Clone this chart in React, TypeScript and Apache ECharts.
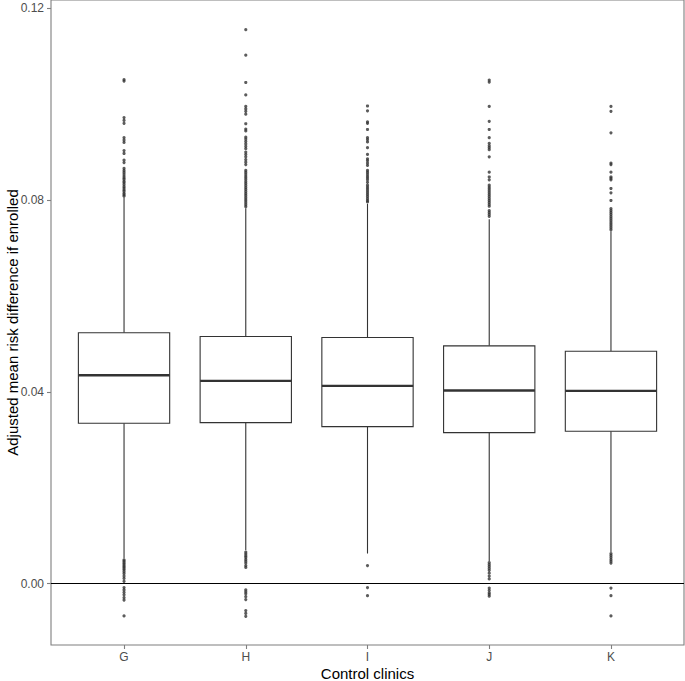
import React, { useEffect, useRef } from "react";
import * as echarts from "echarts";

const categories = ["G", "H", "I", "J", "K"];

const whiskerLow = [0.0053, 0.007, 0.0063, 0.0047, 0.0066];
const quartile1 = [0.03345, 0.0336, 0.03276, 0.03151, 0.03178];
const medians = [0.04347, 0.0423, 0.04125, 0.04028, 0.04021];
const quartile3 = [0.05232, 0.05154, 0.05134, 0.0496, 0.04848];
const whiskerHigh = [0.0805, 0.0783, 0.0792, 0.076, 0.0735];

const outliersG = [
  0.1051, 0.1048, 0.0972, 0.0966, 0.096, 0.093, 0.0925, 0.092, 0.0903, 0.0897, 0.0883, 0.0878,
  0.0866, 0.0862, 0.0858, 0.0854, 0.085, 0.0846, 0.0843, 0.0839, 0.0836, 0.0832, 0.0828, 0.0825,
  0.0821, 0.0818, 0.0814, 0.0811, 0.0808,
  0.005, 0.0047, 0.0044, 0.0041, 0.0038, 0.0035, 0.0032, 0.0029, 0.0025, 0.0021, 0.0016, 0.0011,
  0.0005, -0.0008, -0.0013, -0.0018, -0.0023, -0.0029, -0.0034, -0.0067,
];
const outliersH = [
  0.1155, 0.1102, 0.1045, 0.1019, 0.0995, 0.099, 0.0985, 0.0979, 0.0959, 0.0948, 0.0944, 0.0931,
  0.0927, 0.0922, 0.0917, 0.0912, 0.0907, 0.09, 0.0895, 0.089, 0.0884, 0.0879, 0.0874, 0.0862,
  0.0858, 0.0854, 0.085, 0.0846, 0.0842, 0.0838, 0.0834, 0.083, 0.0826, 0.0822, 0.0818, 0.0814,
  0.081, 0.0806, 0.0802, 0.0798, 0.0794, 0.079, 0.0786,
  0.0066, 0.0062, 0.0058, 0.0055, 0.0051, 0.0047, 0.0043, 0.0038, 0.0034, -0.0013, -0.0017,
  -0.0021, -0.0027, -0.0033, -0.0056, -0.0062, -0.0068,
];
const outliersI = [
  0.0996, 0.0986, 0.0963, 0.096, 0.0947, 0.093, 0.0926, 0.0921, 0.0909, 0.0895, 0.0886, 0.0882,
  0.0877, 0.0872, 0.0862, 0.0858, 0.0854, 0.085, 0.0846, 0.0842, 0.0837, 0.0831, 0.0827, 0.0823,
  0.0819, 0.0815, 0.0811, 0.0807, 0.0803, 0.0799, 0.0796,
  0.0038, -0.0008, -0.0025,
];
const outliersJ = [
  0.105, 0.1046, 0.0995, 0.0964, 0.0947, 0.093, 0.0918, 0.0913, 0.0909, 0.0905, 0.089, 0.0858,
  0.0848, 0.0842, 0.0831, 0.0827, 0.0823, 0.0819, 0.0815, 0.0811, 0.0807, 0.0803, 0.0799, 0.0795,
  0.0791, 0.0787, 0.0778, 0.0774, 0.077, 0.0766,
  0.0044, 0.004, 0.0036, 0.0032, 0.0028, 0.0022, 0.0016, 0.001, -0.0009, -0.0014, -0.0019,
  -0.0022, -0.0026,
];
const outliersK = [
  0.0995, 0.0985, 0.094, 0.0877, 0.0874, 0.0858, 0.0848, 0.0845, 0.0842, 0.0824, 0.0815, 0.0799,
  0.0782, 0.0778, 0.0774, 0.077, 0.0766, 0.0762, 0.0758, 0.0754, 0.075, 0.0746, 0.0742, 0.0738,
  0.0063, 0.0059, 0.0055, 0.0051, 0.0047, 0.0043, -0.0009, -0.0025, -0.0067,
];

const yTicks = [0, 0.04, 0.08, 0.12];
const xTicks = [0, 1, 2, 3, 4];

export default function App() {
  const ref = useRef<HTMLDivElement>(null);

  useEffect(() => {
    if (!ref.current) return;
    const chart = echarts.init(ref.current, undefined, { renderer: "svg" });

    const boxData = categories.map((_, i) => [
      i,
      whiskerLow[i],
      quartile1[i],
      medians[i],
      quartile3[i],
      whiskerHigh[i],
    ]);
    const allOutliers = [outliersG, outliersH, outliersI, outliersJ, outliersK];
    const outlierData: number[][] = [];
    allOutliers.forEach((arr, i) => arr.forEach((v) => outlierData.push([i, v])));

    const font = "'Liberation Sans', Arial, Helvetica, sans-serif";
    const stroke = "#333333";

    chart.setOption({
      animation: false,
      backgroundColor: "#ffffff",
      grid: {
        left: 51,
        right: 1,
        top: 0,
        bottom: 36,
        containLabel: false,
        outerBoundsMode: "none",
        show: true,
        borderColor: "#7f7f7f",
        borderWidth: 1.1,
        backgroundColor: "transparent",
      },
      xAxis: {
        type: "value",
        min: -0.6,
        max: 4.6,
        position: "bottom",
        name: "Control clinics",
        nameLocation: "middle",
        nameGap: 21,
        nameMoveOverlap: false,
        nameTextStyle: { color: "#000000", fontSize: 15, fontFamily: font },
        axisLine: { show: false, onZero: false },
        splitLine: { show: false },
        axisTick: {
          show: true,
          customValues: xTicks,
          length: 4,
          lineStyle: { color: "#7f7f7f", width: 1.1 },
        },
        axisLabel: {
          customValues: xTicks,
          margin: 6,
          color: "#4d4d4d",
          fontSize: 12,
          fontFamily: font,
          formatter: (v: number) => categories[Math.round(v)] ?? "",
        },
      },
      yAxis: {
        type: "value",
        min: -0.01277,
        max: 0.1217,
        position: "left",
        name: "Adjusted mean risk difference if enrolled",
        nameLocation: "middle",
        nameGap: 31,
        nameMoveOverlap: false,
        nameTextStyle: { color: "#000000", fontSize: 15, fontFamily: font },
        axisLine: { show: false, onZero: false },
        splitLine: { show: false },
        axisTick: {
          show: true,
          customValues: yTicks,
          length: 4,
          lineStyle: { color: "#7f7f7f", width: 1.1 },
        },
        axisLabel: {
          customValues: yTicks,
          margin: 7,
          color: "#4d4d4d",
          fontSize: 12,
          fontFamily: font,
          formatter: (v: number) => v.toFixed(2),
        },
      },
      series: [
        {
          type: "custom",
          data: boxData,
          encode: { x: 0, y: [1, 2, 3, 4, 5] },
          renderItem: (params: any, api: any) => {
            const x = api.value(0);
            const pLo = api.coord([x, api.value(1)]);
            const pQ1 = api.coord([x, api.value(2)]);
            const pMed = api.coord([x, api.value(3)]);
            const pQ3 = api.coord([x, api.value(4)]);
            const pHi = api.coord([x, api.value(5)]);
            const half = api.size([0.75, 0])[0] / 2;
            const cx = pMed[0];
            return {
              type: "group",
              children: [
                {
                  type: "line",
                  shape: { x1: cx, y1: pHi[1], x2: cx, y2: pQ3[1] },
                  style: { stroke, lineWidth: 1.1 },
                },
                {
                  type: "line",
                  shape: { x1: cx, y1: pQ1[1], x2: cx, y2: pLo[1] },
                  style: { stroke, lineWidth: 1.1 },
                },
                {
                  type: "rect",
                  shape: { x: cx - half, y: pQ3[1], width: half * 2, height: pQ1[1] - pQ3[1] },
                  style: { fill: "#ffffff", stroke, lineWidth: 1.1 },
                },
                {
                  type: "line",
                  shape: { x1: cx - half, y1: pMed[1], x2: cx + half, y2: pMed[1] },
                  style: { stroke, lineWidth: 2.4 },
                },
              ],
            };
          },
        },
        {
          type: "scatter",
          data: outlierData,
          symbol: "circle",
          symbolSize: 3.2,
          itemStyle: { color: "#333333" },
          markLine: {
            silent: true,
            symbol: ["none", "none"],
            label: { show: false },
            lineStyle: { color: "#000000", width: 1.2, type: "solid" },
            data: [{ yAxis: 0 }],
          },
        },
      ],
    });

    return () => chart.dispose();
  }, []);

  return (
    <div
      ref={ref}
      style={{ position: "absolute", left: 0, top: 0, width: 685, height: 681 }}
    />
  );
}
